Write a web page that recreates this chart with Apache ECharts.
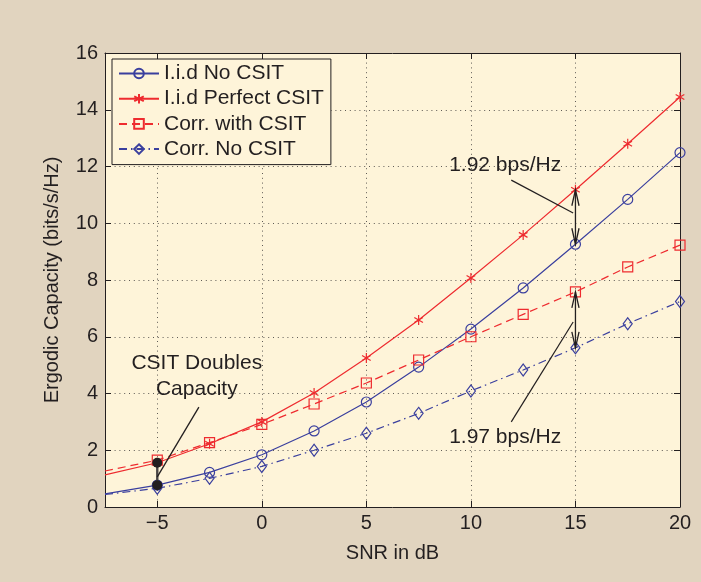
<!DOCTYPE html>
<html>
<head>
<meta charset="utf-8">
<script src="https://cdn.jsdelivr.net/npm/echarts@6/dist/echarts.min.js"></script>
<style>
  html, body { margin: 0; padding: 0; background: #e1d4bf; }
  #chart { width: 701px; height: 582px; }
</style>
</head>
<body>
<div id="chart"></div>
<script>
// SNR sample points (dB); the first one sits on the left edge and carries no marker
const snr = [-7.5, -5, -2.5, 0, 2.5, 5, 7.5, 10, 12.5, 15, 17.5, 20];

// Ergodic capacity (bits/s/Hz) for each scheme
const iidNoCsit      = [0.46, 0.77, 1.22, 1.84, 2.68, 3.70, 4.93, 6.27, 7.72, 9.26, 10.84, 12.49];
const iidPerfectCsit = [1.13, 1.56, 2.23, 3.00, 4.02, 5.25, 6.59, 8.07, 9.59, 11.18, 12.80, 14.45];
const corrWithCsit   = [1.27, 1.65, 2.27, 2.91, 3.63, 4.37, 5.18, 6.00, 6.79, 7.58, 8.46, 9.23];
const corrNoCsit     = [0.44, 0.66, 1.01, 1.43, 2.00, 2.60, 3.30, 4.09, 4.83, 5.61, 6.46, 7.24];

const seriesNames = ['I.i.d No CSIT', 'I.i.d Perfect CSIT', 'Corr. with CSIT', 'Corr. No CSIT'];

// Axis settings
const xRange = [-7.5, 20];
const yRange = [0, 16];
const yStep = 2;

// Annotation text
const gapLabelTop = '1.92 bps/Hz';
const gapLabelBottom = '1.97 bps/Hz';
const doublingLabel = 'CSIT Doubles\nCapacity';

const BLUE = '#3a3f9e';
const RED = '#ee2b2f';
const INK = '#231f20';
const FONT = '"Liberation Sans", Arial, Helvetica, sans-serif';

const asterisk = 'path://M5,0 L5,10 M0.67,2.5 L9.33,7.5 M0.67,7.5 L9.33,2.5';

function pairs(values) {
  return snr.map((x, i) => {
    const item = { value: [x, values[i]] };
    if (x < -5) item.symbol = 'none';
    return item;
  });
}

function lineSeries(name, values, color, symbol, size, dash) {
  return {
    name: name,
    type: 'line',
    data: pairs(values),
    symbol: symbol,
    symbolSize: size,
    symbolKeepAspect: true,
    color: color,
    itemStyle: { color: 'transparent', borderColor: color, borderWidth: 1.2 },
    lineStyle: { color: color, width: 1.2, type: dash },
    emphasis: { disabled: true },
    animation: false,
    z: 3
  };
}

const chart = echarts.init(document.getElementById('chart'), null, { renderer: 'canvas' });

const gridRect = { left: 105, right: 21, top: 53, bottom: 75 };

const axisLineStyle = { show: true, onZero: false, lineStyle: { color: INK, width: 1 } };
const tickStyle = { show: true, inside: true, length: 6, lineStyle: { color: INK, width: 1 } };
const gridDots = { show: true, lineStyle: { color: '#5e5a55', width: 1, type: [1, 3.8] } };

chart.setOption({
  backgroundColor: '#e1d4bf',
  textStyle: { fontFamily: FONT },
  grid: Object.assign({ show: true, backgroundColor: '#fef4d9', borderWidth: 0 }, gridRect),
  legend: {
    data: seriesNames,
    orient: 'vertical',
    left: 112,
    top: 59,
    padding: [4, 7, 5, 6],
    itemWidth: 40,
    itemHeight: 12,
    itemGap: 4.2,
    backgroundColor: '#fef4d9',
    borderColor: INK,
    borderWidth: 1,
    borderRadius: 0,
    selectedMode: false,
    textStyle: { fontFamily: FONT, fontSize: 21, color: INK, lineHeight: 20.5 }
  },
  xAxis: [{
    type: 'value',
    min: xRange[0],
    max: xRange[1],
    splitNumber: 5,
    name: 'SNR in dB',
    nameLocation: 'middle',
    nameGap: 36,
    nameTextStyle: { fontFamily: FONT, fontSize: 20, color: INK },
    axisLine: axisLineStyle,
    axisTick: tickStyle,
    splitLine: gridDots,
    axisLabel: {
      margin: 6,
      fontFamily: FONT, fontSize: 20, color: INK,
      formatter: v => (v < -5 ? '' : String(v).replace('-', '\u2212'))
    }
  }, {
    type: 'value',
    position: 'top',
    min: xRange[0],
    max: xRange[1],
    splitNumber: 5,
    axisLine: axisLineStyle,
    axisTick: tickStyle,
    splitLine: { show: false },
    axisLabel: { show: false }
  }],
  yAxis: [{
    type: 'value',
    min: yRange[0],
    max: yRange[1],
    interval: yStep,
    name: 'Ergodic Capacity (bits/s/Hz)',
    nameLocation: 'middle',
    nameGap: 43,
    nameTextStyle: { fontFamily: FONT, fontSize: 20, color: INK },
    axisLine: axisLineStyle,
    axisTick: tickStyle,
    splitLine: gridDots,
    axisLabel: { margin: 7, fontFamily: FONT, fontSize: 20, color: INK }
  }, {
    type: 'value',
    position: 'right',
    min: yRange[0],
    max: yRange[1],
    interval: yStep,
    axisLine: axisLineStyle,
    axisTick: tickStyle,
    splitLine: { show: false },
    axisLabel: { show: false }
  }],
  series: [
    lineSeries(seriesNames[0], iidNoCsit, BLUE, 'circle', 10, 'solid'),
    lineSeries(seriesNames[1], iidPerfectCsit, RED, asterisk, 10, 'solid'),
    lineSeries(seriesNames[2], corrWithCsit, RED, 'rect', 10, [8, 5]),
    lineSeries(seriesNames[3], corrNoCsit, BLUE, 'diamond', [9, 12], [8, 4, 1.5, 4])
  ]
});

// Annotations are placed in data space and converted to pixels through the grid
function px(x, y) {
  return chart.convertToPixel({ gridIndex: 0 }, [x, y]);
}

function segment(a, b, width, color) {
  return {
    type: 'line',
    shape: { x1: a[0], y1: a[1], x2: b[0], y2: b[1] },
    style: { stroke: color || INK, lineWidth: width || 1.2 },
    z: 20
  };
}

function doubleArrow(x, yTop, yBottom) {
  const top = px(x, yTop);
  const bot = px(x, yBottom);
  const head = 16, half = 3.6;
  return [
    segment(top, bot, 1.3),
    { type: 'polyline', shape: { points: [[top[0] - half, top[1] + head], top, [top[0] + half, top[1] + head]] },
      style: { stroke: INK, lineWidth: 1.3, fill: null }, z: 20 },
    { type: 'polyline', shape: { points: [[bot[0] - half, bot[1] - head], bot, [bot[0] + half, bot[1] - head]] },
      style: { stroke: INK, lineWidth: 1.3, fill: null }, z: 20 }
  ];
}

function label(text, x, y) {
  const p = px(x, y);
  return {
    type: 'text',
    x: p[0], y: p[1],
    style: { text: text, font: '21px ' + FONT, fill: INK, align: 'center', verticalAlign: 'middle', lineHeight: 26 },
    z: 21
  };
}

function dot(x, y) {
  const p = px(x, y);
  return { type: 'circle', shape: { cx: p[0], cy: p[1], r: 5 }, style: { fill: INK }, z: 22 };
}

const iAt15 = snr.indexOf(15);
const iAtM5 = snr.indexOf(-5);

const graphics = [].concat(
  // gap between the i.i.d. curves at 15 dB
  doubleArrow(15, iidPerfectCsit[iAt15], iidNoCsit[iAt15]),
  [segment(px(11.93, 11.52), px(14.89, 10.36), 1.2), label(gapLabelTop, 11.64, 12.05)],
  // gap between the correlated curves at 15 dB
  doubleArrow(15, corrWithCsit[iAt15], corrNoCsit[iAt15]),
  [segment(px(11.93, 3.0), px(14.89, 6.52), 1.2), label(gapLabelBottom, 11.64, 2.47)],
  // doubling at -5 dB
  [
    segment(px(-5, iidPerfectCsit[iAtM5]), px(-5, iidNoCsit[iAtM5]), 2.4, '#4a4646'),
    segment(px(-5, 1.06), px(-3.01, 3.52), 1.3),
    dot(-5, iidPerfectCsit[iAtM5]),
    dot(-5, iidNoCsit[iAtM5]),
    label(doublingLabel, -3.11, 4.62)
  ]
);

chart.setOption({ graphic: graphics });
</script>
</body>
</html>
